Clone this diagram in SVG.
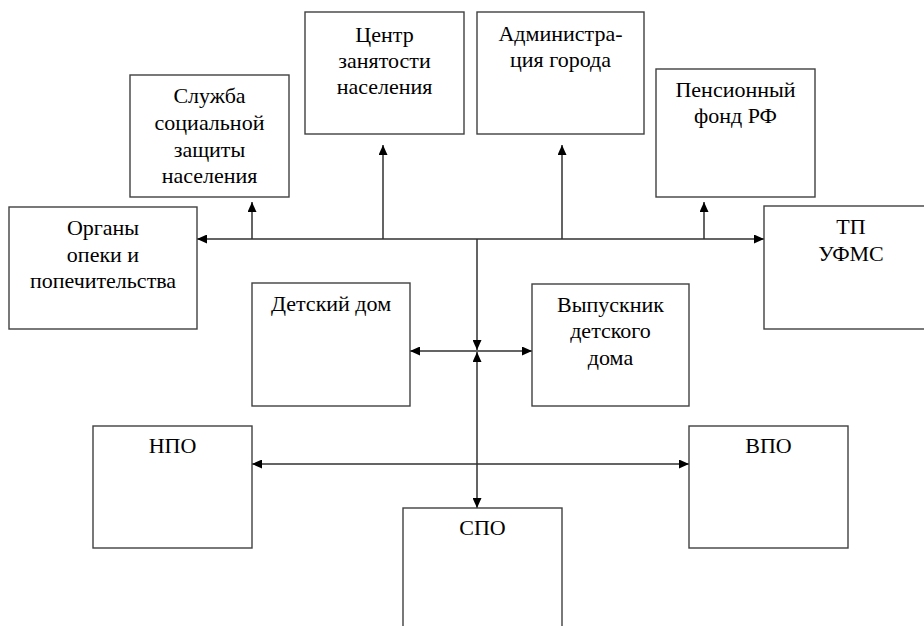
<svg xmlns="http://www.w3.org/2000/svg" width="924" height="626" viewBox="0 0 924 626">
<style>
.box{fill:#fff;stroke:#404040;stroke-width:1.4}
.c{fill:none;stroke:#303030;stroke-width:1.5}
</style>
<defs>
<marker id="ah" markerUnits="userSpaceOnUse" viewBox="0 0 10 9" refX="10" refY="4.5" markerWidth="10" markerHeight="9" orient="auto-start-reverse">
<path d="M0,0 L10,4.5 L0,9 z" fill="#000"/>
</marker>
</defs>
<rect width="924" height="626" fill="#fff"/>
<g id="connectors">
<line class="c" x1="197" y1="239" x2="764" y2="239" marker-start="url(#ah)" marker-end="url(#ah)"/>
<line class="c" x1="252" y1="239" x2="252" y2="202" marker-end="url(#ah)"/>
<line class="c" x1="383" y1="239" x2="383" y2="145" marker-end="url(#ah)"/>
<line class="c" x1="562" y1="239" x2="562" y2="145" marker-end="url(#ah)"/>
<line class="c" x1="704" y1="239" x2="704" y2="202" marker-end="url(#ah)"/>
<line class="c" x1="477" y1="239" x2="477" y2="350" marker-end="url(#ah)"/>
<line class="c" x1="410" y1="351" x2="532" y2="351" marker-start="url(#ah)" marker-end="url(#ah)"/>
<line class="c" x1="477" y1="352" x2="477" y2="508" marker-start="url(#ah)" marker-end="url(#ah)"/>
<line class="c" x1="252" y1="464" x2="689" y2="464" marker-start="url(#ah)" marker-end="url(#ah)"/>
</g>
<g font-family="Liberation Serif, Times New Roman, serif" font-size="22" fill="#000" text-anchor="middle">
<g id="sluzhba">
<rect class="box" x="130" y="75" width="159" height="122"/>
<text x="209.5" y="103">Служба</text>
<text x="209.5" y="130">социальной</text>
<text x="209.5" y="157">защиты</text>
<text x="209.5" y="183">населения</text>
</g>
<g id="centr">
<rect class="box" x="305" y="12" width="159" height="122"/>
<text x="384.5" y="42">Центр</text>
<text x="384.5" y="68">занятости</text>
<text x="384.5" y="94">населения</text>
</g>
<g id="admin">
<rect class="box" x="477" y="12" width="167" height="122"/>
<text x="560.5" y="41">Администра-</text>
<text x="560.5" y="67">ция города</text>
</g>
<g id="pension">
<rect class="box" x="656" y="69" width="159" height="128"/>
<text x="735.5" y="97">Пенсионный</text>
<text x="735.5" y="123">фонд РФ</text>
</g>
<g id="organy">
<rect class="box" x="9" y="207" width="188" height="122"/>
<text x="103" y="235">Органы</text>
<text x="103" y="262">опеки и</text>
<text x="103" y="288">попечительства</text>
</g>
<g id="tp">
<rect class="box" x="764" y="206" width="175" height="123"/>
<text x="851" y="234">ТП</text>
<text x="851" y="261">УФМС</text>
</g>
<g id="detdom">
<rect class="box" x="252" y="283" width="158" height="123"/>
<text x="331" y="311">Детский дом</text>
</g>
<g id="vypusknik">
<rect class="box" x="532" y="284" width="157" height="122"/>
<text x="610.5" y="312">Выпускник</text>
<text x="610.5" y="338">детского</text>
<text x="610.5" y="365">дома</text>
</g>
<g id="npo">
<rect class="box" x="93" y="426" width="159" height="122"/>
<text x="172.5" y="453">НПО</text>
</g>
<g id="vpo">
<rect class="box" x="689" y="426" width="159" height="122"/>
<text x="768.5" y="453">ВПО</text>
</g>
<g id="spo">
<rect class="box" x="403" y="508" width="159" height="140"/>
<text x="482.5" y="535">СПО</text>
</g>
</g>
</svg>
